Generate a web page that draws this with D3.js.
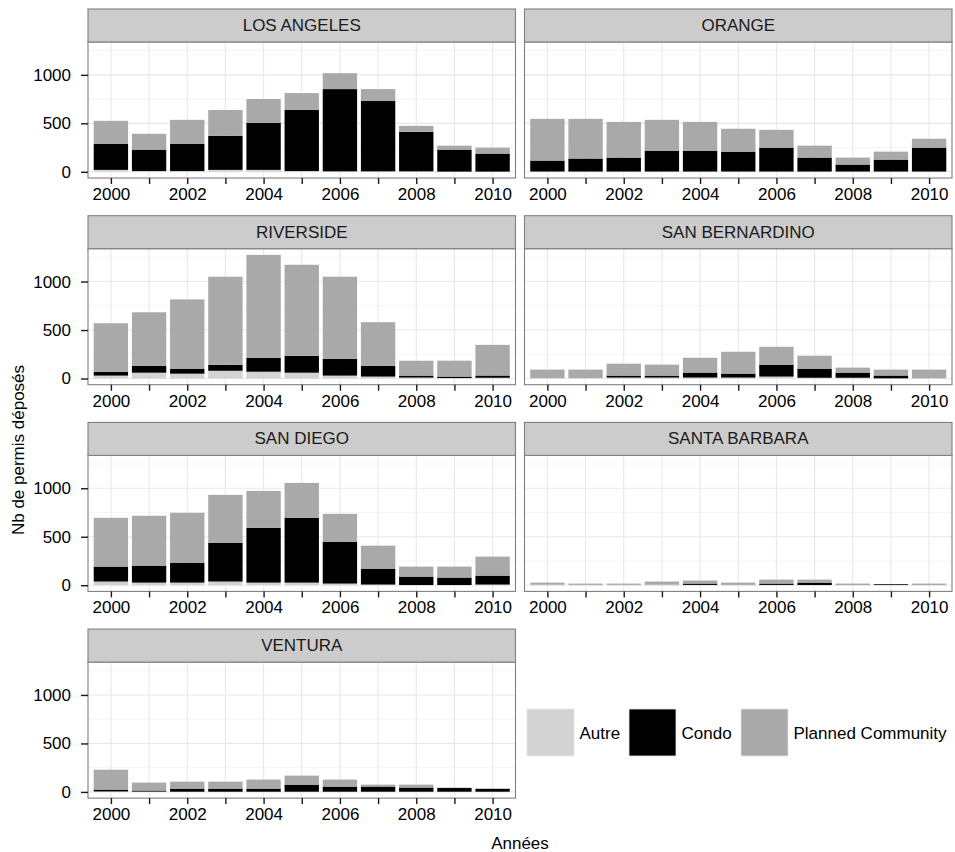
<!DOCTYPE html>
<html>
<head>
<meta charset="utf-8">
<script src="https://cdn.jsdelivr.net/npm/d3@7"></script>
<style>
  html, body { margin: 0; padding: 0; background: #fff; }
  svg { display: block; font-family: "Liberation Sans", Arial, Helvetica, sans-serif; }
</style>
</head>
<body>
<svg id="chart" width="955" height="852"></svg>
<script>
// ---------------- DATA ----------------
const years = [2000, 2001, 2002, 2003, 2004, 2005, 2006, 2007, 2008, 2009, 2010];
const xTickLabels = [2000, 2002, 2004, 2006, 2008, 2010];
const yTickValues = [0, 500, 1000];
const yMinorValues = [250, 750, 1250];
const typeNames = ["Autre", "Condo", "Planned Community"];
const typeColors = ["#d3d3d3", "#000000", "#a9a9a9"];
const counties = ["LOS ANGELES", "ORANGE", "RIVERSIDE", "SAN BERNARDINO", "SAN DIEGO", "SANTA BARBARA", "VENTURA"];

const losAngelesAutre   = [20, 8, 8, 20, 20, 8, 5, 5, 5, 2, 2];
const losAngelesCondo   = [270, 221, 282, 352, 485, 630, 848, 725, 408, 227, 186];
const losAngelesPlanned = [236, 163, 246, 266, 246, 174, 164, 123, 61, 41, 61];

const orangeAutre   = [3, 3, 3, 3, 3, 3, 3, 3, 3, 3, 3];
const orangeCondo   = [113, 134, 144, 215, 215, 205, 246, 144, 72, 123, 246];
const orangePlanned = [430, 409, 368, 318, 297, 236, 184, 123, 72, 82, 92];

const riversideAutre   = [30, 60, 50, 80, 70, 60, 30, 20, 10, 5, 8];
const riversideCondo   = [40, 72, 52, 62, 143, 175, 173, 112, 20, 15, 23];
const riversidePlanned = [500, 551, 714, 908, 1062, 938, 847, 449, 153, 164, 316];

const sanBernardinoAutre   = [5, 5, 10, 10, 10, 10, 20, 8, 8, 2, 2];
const sanBernardinoCondo   = [0, 0, 20, 20, 51, 41, 123, 94, 53, 29, 0];
const sanBernardinoPlanned = [87, 87, 123, 113, 153, 225, 184, 133, 51, 61, 90];

const sanDiegoAutre   = [38, 27, 27, 38, 27, 27, 17, 7, 2, 2, 7];
const sanDiegoCondo   = [154, 175, 206, 400, 565, 668, 432, 164, 87, 77, 92];
const sanDiegoPlanned = [503, 514, 514, 494, 381, 360, 287, 237, 103, 113, 196];

const santaBarbaraAutre   = [5, 3, 3, 5, 3, 3, 3, 2, 2, 2, 2];
const santaBarbaraCondo   = [0, 0, 0, 0, 14, 0, 14, 25, 0, 8, 0];
const santaBarbaraPlanned = [22, 14, 14, 33, 31, 24, 41, 31, 15, 0, 15];

const venturaAutre   = [5, 3, 2, 2, 2, 2, 2, 2, 2, 2, 2];
const venturaCondo   = [19, 11, 32, 32, 32, 73, 53, 53, 43, 38, 30];
const venturaPlanned = [205, 82, 72, 72, 93, 93, 72, 20, 30, 5, 2];

const seriesByCounty = [
  [losAngelesAutre, losAngelesCondo, losAngelesPlanned],
  [orangeAutre, orangeCondo, orangePlanned],
  [riversideAutre, riversideCondo, riversidePlanned],
  [sanBernardinoAutre, sanBernardinoCondo, sanBernardinoPlanned],
  [sanDiegoAutre, sanDiegoCondo, sanDiegoPlanned],
  [santaBarbaraAutre, santaBarbaraCondo, santaBarbaraPlanned],
  [venturaAutre, venturaCondo, venturaPlanned]
];

// ---------------- LAYOUT ----------------
const svg = d3.select("#chart");
const FONT = 17;
const colLeft = [88, 524.5];
const panelW = 427.5;
const rowTop0 = 9, rowPitch = 206.7;
const stripH = 33, plotH = 136;

// shared scales
const totals = seriesByCounty.flatMap(s => years.map((_, i) => s[0][i] + s[1][i] + s[2][i]));
const maxTotal = d3.max(totals);
const yDomain = [-0.05 * maxTotal, 1.05 * maxTotal];

const stackGen = d3.stack().keys([0, 1, 2]);

counties.forEach((name, ci) => {
  const col = ci % 2, row = Math.floor(ci / 2);
  const left = colLeft[col];
  const top = rowTop0 + row * rowPitch;
  const plotTop = top + stripH;
  const plotBottom = plotTop + plotH;

  const x = d3.scaleLinear().domain([1999.4, 2010.6]).range([left, left + panelW]);
  const y = d3.scaleLinear().domain(yDomain).range([plotBottom, plotTop]);

  const g = svg.append("g");

  // background
  g.append("rect").attr("x", left).attr("y", plotTop).attr("width", panelW).attr("height", plotH).attr("fill", "#fff");

  // minor y grid
  g.selectAll(".ymin").data(yMinorValues).enter().append("line")
    .attr("x1", left).attr("x2", left + panelW)
    .attr("y1", d => y(d)).attr("y2", d => y(d))
    .attr("stroke", "#f5f5f5").attr("stroke-width", 1.1);
  // major y grid
  g.selectAll(".ymaj").data(yTickValues).enter().append("line")
    .attr("x1", left).attr("x2", left + panelW)
    .attr("y1", d => y(d)).attr("y2", d => y(d))
    .attr("stroke", "#e8e8e8").attr("stroke-width", 1.1);
  // x grid (every year)
  g.selectAll(".xg").data(years).enter().append("line")
    .attr("x1", d => x(d)).attr("x2", d => x(d))
    .attr("y1", plotTop).attr("y2", plotBottom)
    .attr("stroke", "#e8e8e8").attr("stroke-width", 1.1);

  // stacked bars
  const rows = years.map((yr, i) => ({ year: yr, 0: seriesByCounty[ci][0][i], 1: seriesByCounty[ci][1][i], 2: seriesByCounty[ci][2][i] }));
  const stacked = stackGen(rows);
  const bw = x(2000.45) - x(1999.55);
  stacked.forEach((layer, li) => {
    g.selectAll(".bar" + li).data(layer).enter().append("rect")
      .attr("x", d => x(d.data.year) - bw / 2)
      .attr("width", bw)
      .attr("y", d => y(d[1]))
      .attr("height", d => Math.max(0, y(d[0]) - y(d[1])))
      .attr("fill", typeColors[li]);
  });

  // panel border
  g.append("rect").attr("x", left).attr("y", plotTop).attr("width", panelW).attr("height", plotH)
    .attr("fill", "none").attr("stroke", "#7f7f7f").attr("stroke-width", 1.1);

  // strip
  g.append("rect").attr("x", left).attr("y", top).attr("width", panelW).attr("height", stripH)
    .attr("fill", "#cccccc").attr("stroke", "#7f7f7f").attr("stroke-width", 1.1);
  g.append("text").attr("x", left + panelW / 2).attr("y", top + stripH / 2)
    .attr("text-anchor", "middle").attr("dominant-baseline", "central")
    .attr("font-size", FONT).attr("fill", "#1a1a1a").text(name);

  // x axis
  const xAxis = d3.axisBottom(x).tickValues(years).tickSize(6).tickPadding(4)
    .tickFormat(d => xTickLabels.includes(d) ? String(d) : "");
  const xa = g.append("g").attr("transform", `translate(0,${plotBottom})`).call(xAxis);
  xa.select(".domain").remove();
  xa.selectAll(".tick line").attr("stroke", "#1a1a1a").attr("stroke-width", 1.4);
  xa.selectAll(".tick text").attr("font-size", FONT).attr("fill", "#000").attr("font-family", "Liberation Sans, Arial, sans-serif");

  // y axis (left column only)
  if (col === 0) {
    const yAxis = d3.axisLeft(y).tickValues(yTickValues).tickSize(7).tickPadding(10).tickFormat(d3.format("d"));
    const ya = g.append("g").attr("transform", `translate(${left},0)`).call(yAxis);
    ya.select(".domain").remove();
    ya.selectAll(".tick line").attr("stroke", "#1a1a1a").attr("stroke-width", 1.4);
    ya.selectAll(".tick text").attr("font-size", FONT).attr("fill", "#000").attr("font-family", "Liberation Sans, Arial, sans-serif");
  }
});

// axis titles
svg.append("text").attr("x", (colLeft[0] + colLeft[1] + panelW) / 2).attr("y", 843)
  .attr("text-anchor", "middle").attr("dominant-baseline", "central")
  .attr("font-size", FONT).attr("fill", "#000").text("Années");
svg.append("text").attr("transform", "translate(18,450) rotate(-90)")
  .attr("text-anchor", "middle").attr("dominant-baseline", "central")
  .attr("font-size", FONT).attr("fill", "#000").text("Nb de permis déposés");

// legend
const legendX = [527, 629, 741];
const legend = svg.append("g");
typeNames.forEach((t, i) => {
  legend.append("rect").attr("x", legendX[i]).attr("y", 709).attr("width", 47).attr("height", 47)
    .attr("fill", typeColors[i]).attr("stroke", "#e5e5e5").attr("stroke-width", 0.8);
  legend.append("text").attr("x", legendX[i] + 52.5).attr("y", 733)
    .attr("dominant-baseline", "central").attr("font-size", FONT).attr("fill", "#000").text(t);
});
</script>
</body>
</html>
